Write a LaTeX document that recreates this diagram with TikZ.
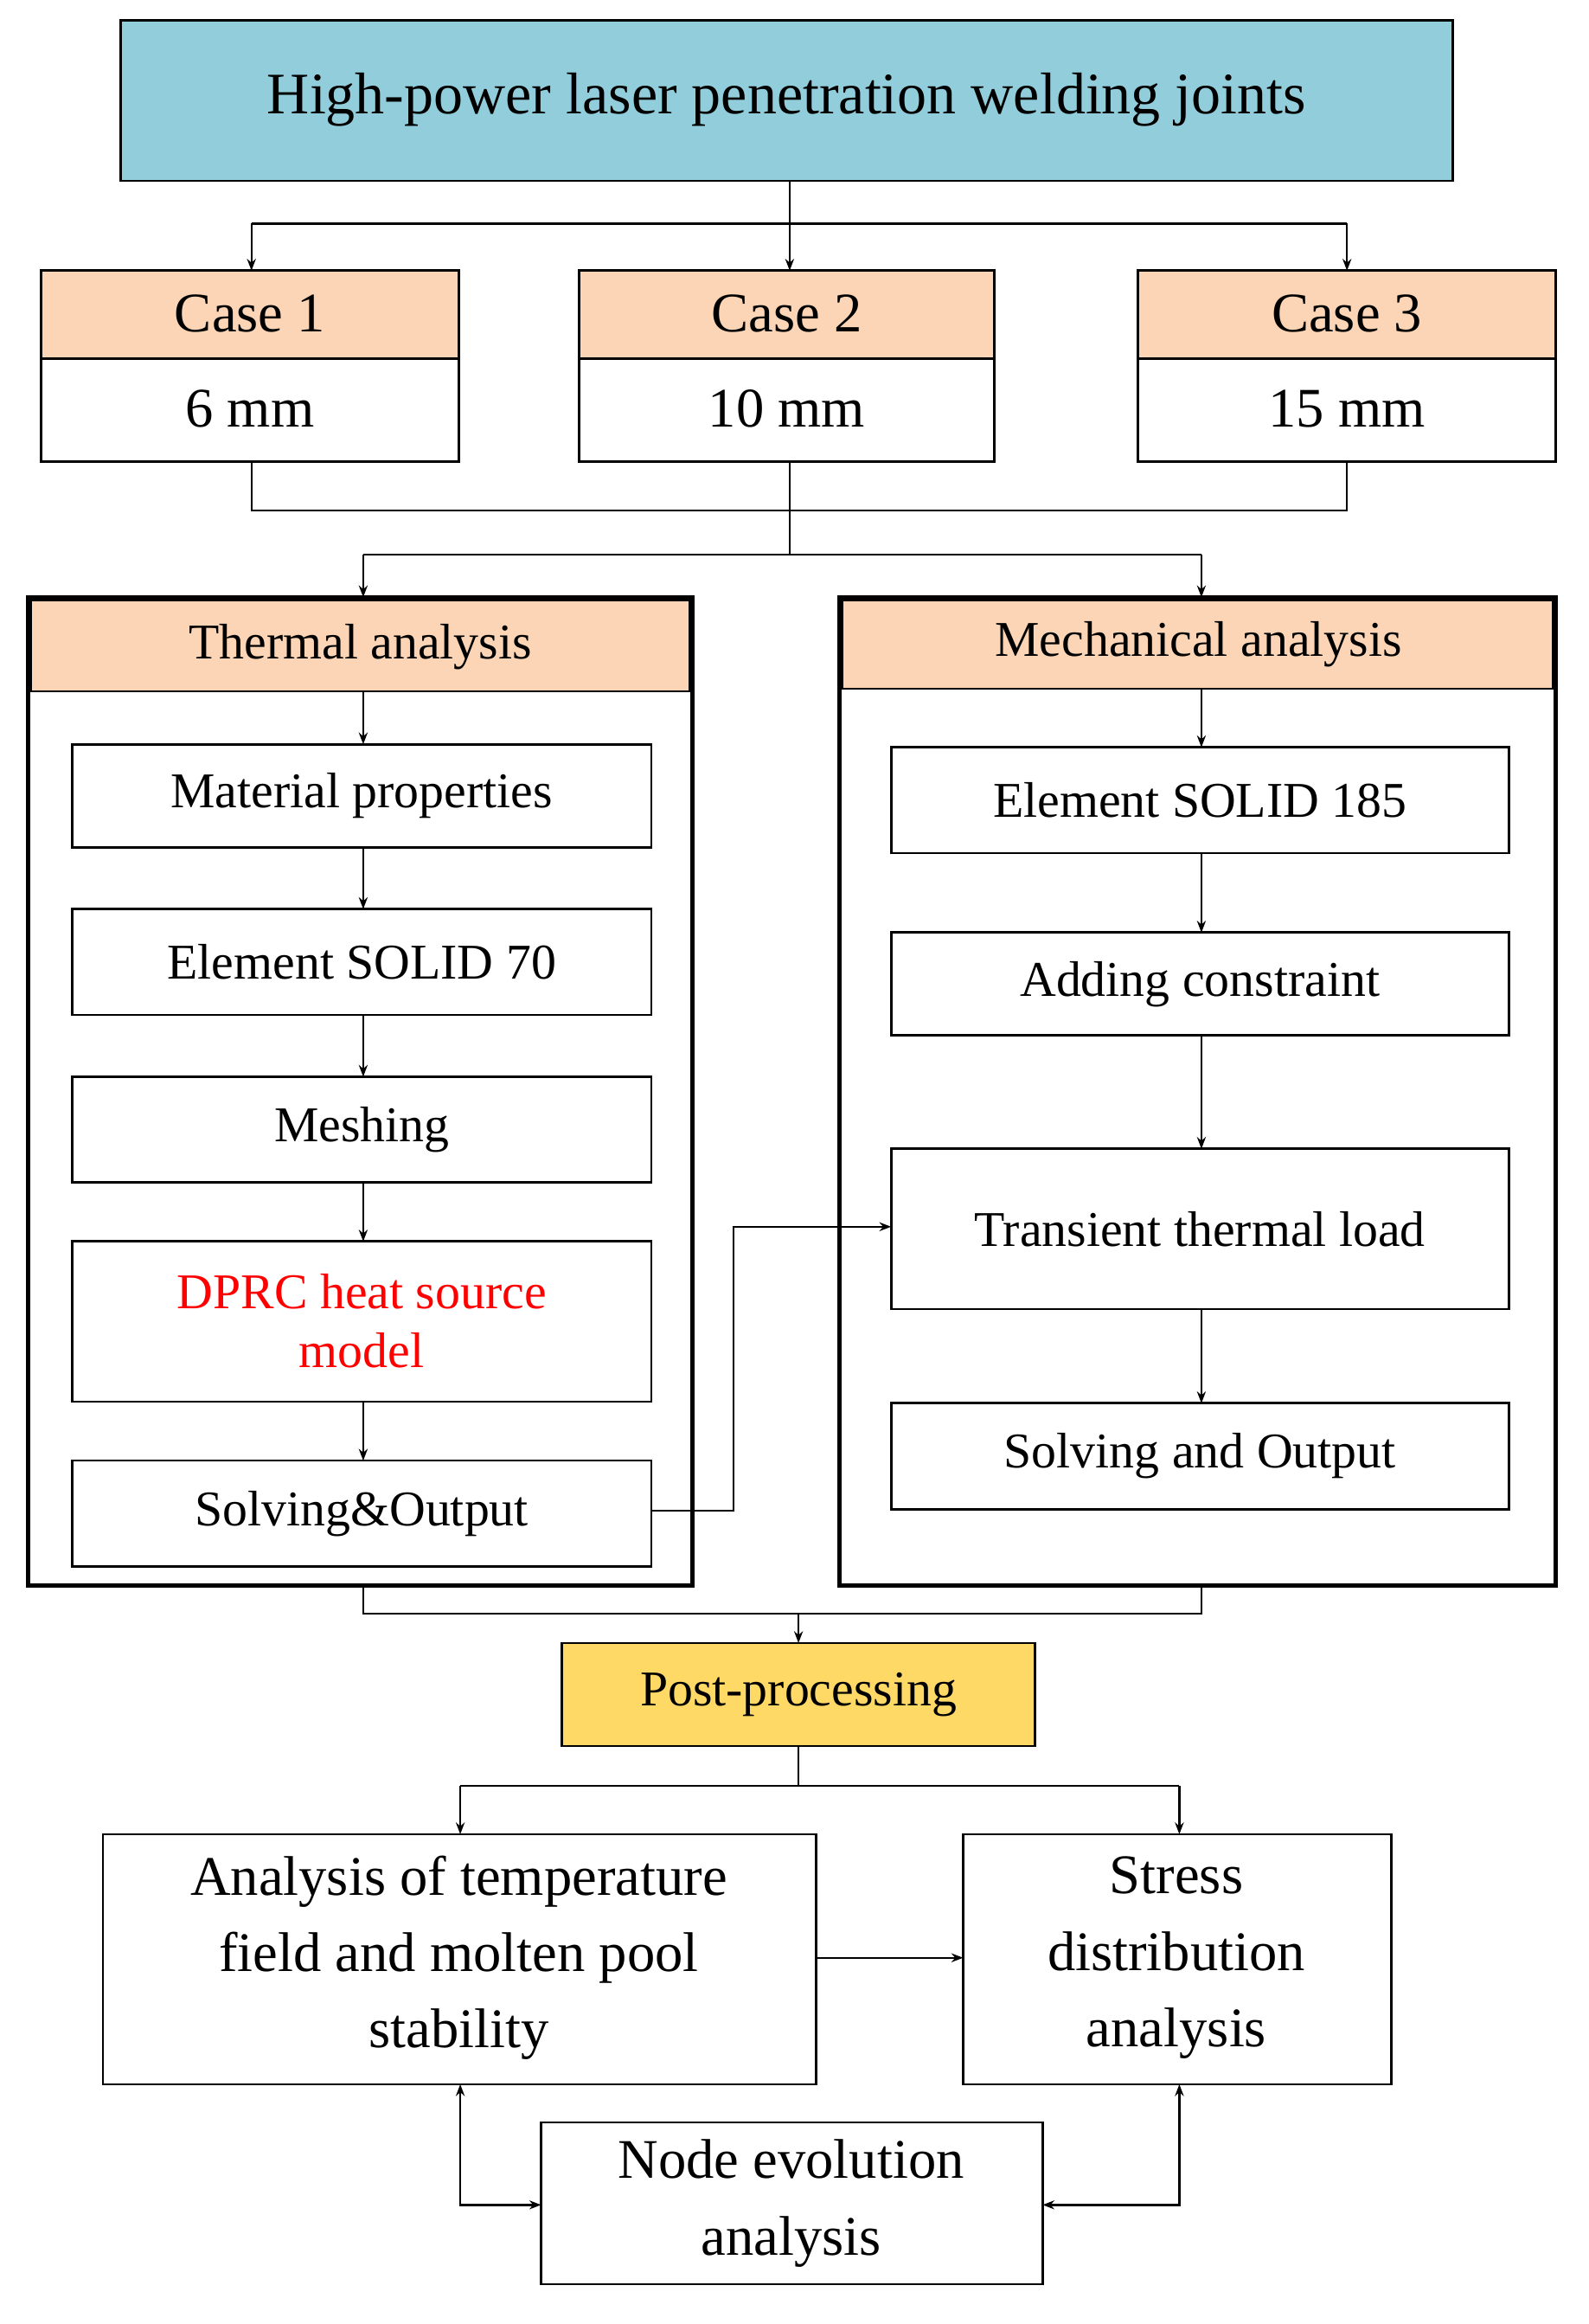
\documentclass[tikz,border=0pt]{standalone}
\usepackage{fontspec}
\setmainfont{Liberation Serif}
\usetikzlibrary{arrows.meta}
\definecolor{tblue}{RGB}{146,205,220}
\definecolor{peach}{RGB}{251,213,181}
\definecolor{gold}{RGB}{255,217,102}
\begin{document}
\begin{tikzpicture}[x=1pt,y=-1pt,
 bx/.style={draw,line width=1.6pt,inner sep=0pt},
 ln/.style={line width=1.4pt},
 ar/.style={ln,-{Stealth[length=8pt,width=6pt]}},
 tx/.style={font=\fontsize{34}{40}\selectfont,align=center},
 lt/.style={font=\fontsize{38}{52}\selectfont,align=center}]
\useasboundingbox (0,0) rectangle (1080,1580);
% top
\filldraw[bx,fill=tblue] (82,14) rectangle (988,123);
\node[font=\fontsize{40}{46}\selectfont] (top) at (535,68) {High-power laser penetration welding joints};
\coordinate (tb) at (537,123);
% cases
\foreach \n/\a/\b/\t/\v in {c1/28/312/Case 1/6 mm, c2/394/676/Case 2/10 mm, c3/774/1058/Case 3/15 mm}{
 \filldraw[bx,fill=peach] (\a,184) rectangle (\b,244);
 \draw[bx] (\a,244) rectangle (\b,314);
 \node[tx,font=\fontsize{38}{44}\selectfont] at ({(\a+\b)/2},213) {\t};
 \node[tx,font=\fontsize{38}{44}\selectfont] at ({(\a+\b)/2},278) {\v};
}
\draw[ln] (tb)--(537,152);
\draw[ln] (171,152)--(916,152);
\draw[ar] (171,152)--(171,184);
\draw[ar] (537,152)--(537,184);
\draw[ar] (916,152)--(916,184);
\draw[ln] (171,314)--(171,347)--(916,347)--(916,314);
\draw[ln] (537,314)--(537,377);
\draw[ln] (247,377)--(817,377);
\draw[ar] (247,377)--(247,406);
\draw[ar] (817,377)--(817,406);
% thermal
\draw[line width=3pt] (19,406) rectangle (471,1078);
\filldraw[fill=peach,draw=black,line width=1.2pt] (21,408) rectangle (469,470);
\node[tx] at (245,440) {Thermal analysis};
\draw[line width=3pt] (571,406) rectangle (1058,1078);
\filldraw[fill=peach,draw=black,line width=1.2pt] (573,408) rectangle (1056,468);
\node[tx] at (815,438) {Mechanical analysis};
\foreach \n/\a/\b/\t in {m1/506/576/Material properties, m2/618/690/Element SOLID 70, m3/732/804/Meshing, m5/993/1065/Solving\&Output}{
 \draw[bx] (49,\a) rectangle (443,\b);
 \node[tx] (\n) at (246,{(\a+\b)/2}) {\t};
}
\draw[bx] (49,844) rectangle (443,953);
\node[tx,text=red] at (246,898) {DPRC heat source\\model};
\draw[ar] (247,470)--(247,506);
\draw[ar] (247,576)--(247,618);
\draw[ar] (247,690)--(247,732);
\draw[ar] (247,804)--(247,844);
\draw[ar] (247,953)--(247,993);
\foreach \n/\a/\b/\t in {s1/508/580/Element SOLID 185, s2/634/704/Adding constraint, s3/781/890/Transient thermal load, s4/954/1026/Solving and Output}{
 \draw[bx] (606,\a) rectangle (1026,\b);
 \node[tx] (\n) at (816,{(\a+\b)/2}) {\t};
}
\draw[ar] (817,468)--(817,508);
\draw[ar] (817,580)--(817,634);
\draw[ar] (817,704)--(817,781);
\draw[ar] (817,890)--(817,954);
\draw[ar] (443,1027)--(499,1027)--(499,834)--(606,834);
% post
\draw[ln] (247,1078)--(247,1097)--(817,1097)--(817,1078);
\draw[ar] (543,1097)--(543,1117);
\filldraw[bx,fill=gold] (382,1117) rectangle (704,1187);
\node[tx] at (543,1152) {Post-processing};
\draw[ln] (543,1187)--(543,1214);
\draw[ln] (313,1214)--(802,1214);
\draw[ar] (313,1214)--(313,1247);
\draw[ar] (802,1214)--(802,1247);
\draw[bx] (70,1247) rectangle (555,1417);
\node[lt] at (312,1331) {Analysis of temperature\\field and molten pool\\stability};
\draw[bx] (655,1247) rectangle (946,1417);
\node[lt] at (800,1331) {Stress\\distribution\\analysis};
\draw[ar] (555,1331)--(655,1331);
\draw[bx] (368,1443) rectangle (709,1553);
\node[lt] at (538,1498) {Node evolution\\analysis};
\draw[ln,{Stealth[length=8pt,width=6pt]}-{Stealth[length=8pt,width=6pt]}] (313,1417)--(313,1499)--(368,1499);
\draw[ln,{Stealth[length=8pt,width=6pt]}-{Stealth[length=8pt,width=6pt]}] (802,1417)--(802,1499)--(709,1499);
\end{tikzpicture}
\end{document}
